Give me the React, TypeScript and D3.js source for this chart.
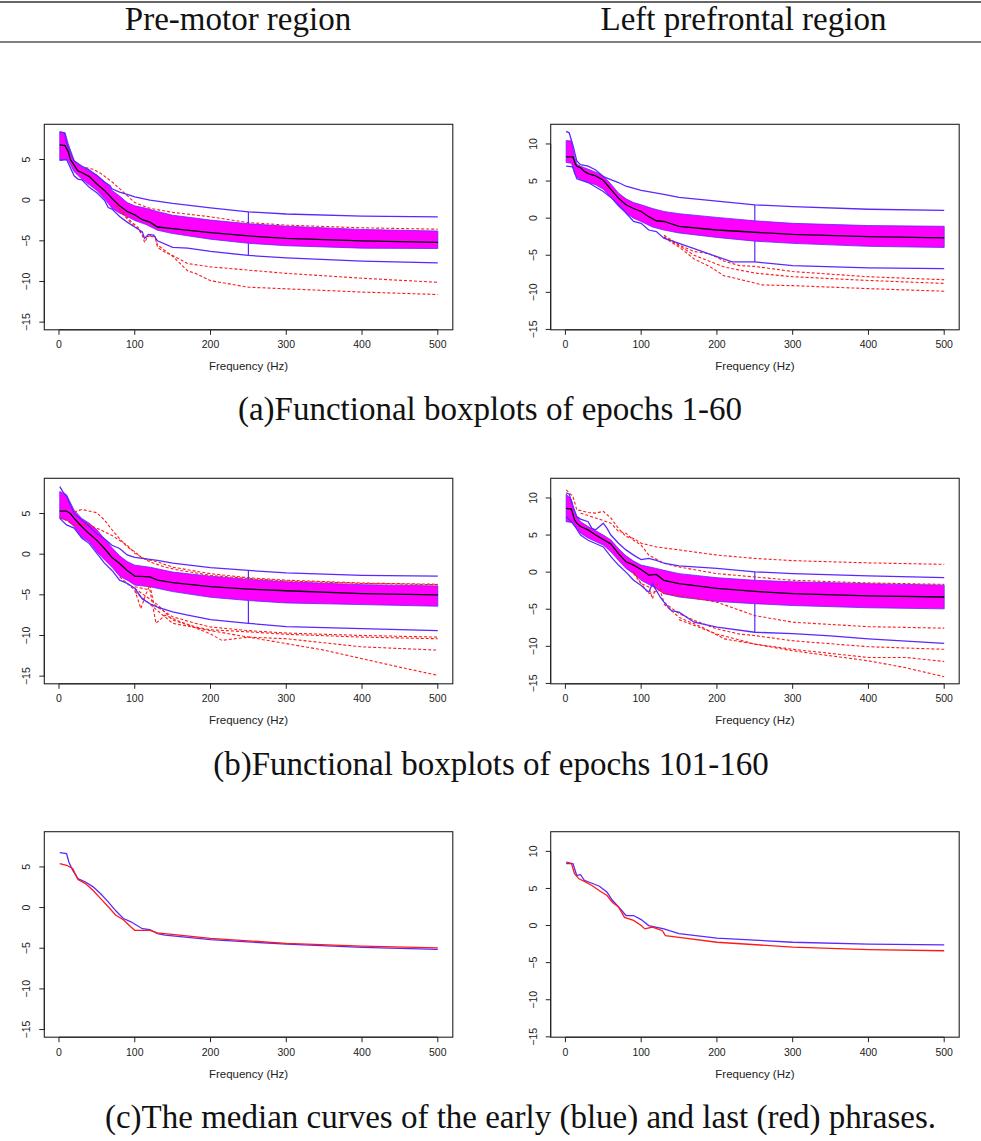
import React from 'react';
import * as d3 from 'd3';

type Pt = [number, number];
type BandPt = [number, number, number]; // [Hz, lower, upper]

const FREQ_TICKS = [0, 100, 200, 300, 400, 500];
const LEFT_Y_TICKS = [-15, -10, -5, 0, 5];
const RIGHT_Y_TICKS = [-15, -10, -5, 0, 5, 10];
const COLUMN_TITLES = ['Pre-motor region', 'Left prefrontal region'];
const CAPTIONS = [
  '(a)Functional boxplots of epochs 1-60',
  '(b)Functional boxplots of epochs 101-160',
  '(c)The median curves of the early (blue) and last (red) phrases.',
];
const X_LABEL = 'Frequency (Hz)';

// ---- (a) pre-motor, epochs 1-60
const aLeftBand: BandPt[] = [
  [1, 4.9, 8.4], [8, 5.0, 8.3], [12, 4.9, 7.0], [15, 4.4, 6.2], [20, 3.5, 4.9], [30, 2.6, 4.1],
  [40, 1.9, 3.6], [50, 1.2, 3.1], [60, 0.2, 2.3], [65, -0.4, 1.9], [70, -1.0, 1.2], [80, -1.6, 0.5],
  [90, -2.0, -0.3], [100, -2.5, -0.7], [115, -3.0, -1.0], [130, -3.7, -1.4], [150, -4.1, -1.85],
  [200, -4.8, -2.45], [250, -5.3, -2.9], [300, -5.6, -3.2], [400, -5.9, -3.6], [500, -5.95, -3.8],
];
const aLeftMedian: Pt[] = [
  [1, 6.8], [8, 6.7], [12, 6.0], [15, 5.0], [20, 4.3], [25, 3.6], [30, 3.4], [40, 2.9], [50, 2.0],
  [60, 1.2], [70, 0.2], [80, -0.7], [90, -1.4], [100, -1.8], [110, -2.4], [120, -2.7], [130, -3.3],
  [150, -3.5], [200, -4.0], [250, -4.4], [300, -4.7], [400, -5.0], [500, -5.2],
];
const aLeftUpper: Pt[] = [
  [1, 8.4], [5, 8.3], [8, 8.2], [10, 7.0], [15, 5.8], [20, 4.8], [30, 4.2], [40, 3.7], [50, 3.0],
  [60, 2.2], [67, 1.8], [70, 1.4], [80, 1.0], [90, 0.7], [100, 0.4], [120, 0.0], [150, -0.4],
  [200, -0.95], [250, -1.43], [300, -1.7], [400, -1.95], [500, -2.05],
];
const aLeftLower: Pt[] = [
  [1, 4.9], [10, 5.0], [15, 4.0], [20, 3.0], [25, 2.6], [30, 2.5], [40, 1.6], [50, 0.9], [60, 0.0],
  [65, -0.9], [70, -1.1], [80, -2.0], [90, -2.7], [100, -3.3], [110, -3.9], [113, -4.7], [118, -4.2],
  [125, -4.3], [130, -5.0], [150, -5.8], [170, -5.9], [200, -6.3], [250, -6.8], [300, -7.1],
  [400, -7.5], [500, -7.7],
];
const aLeftOutliers: Pt[][] = [
  [[35, 4.0], [45, 3.8], [55, 3.3], [70, 2.25], [85, 1.0], [100, -0.3], [120, -1.0], [150, -1.5],
    [200, -2.05], [250, -2.75], [300, -3.07], [400, -3.4], [500, -3.57]],
  [[75, -0.6], [85, -1.6], [95, -2.6], [105, -3.4], [110, -4.3], [113, -5.2], [117, -4.5], [122, -4.3],
    [127, -4.5], [130, -5.8], [140, -6.4], [150, -6.8], [170, -7.8], [200, -8.2], [250, -8.6],
    [300, -9.0], [400, -9.6], [500, -10.1]],
  [[75, -0.6], [85, -1.8], [95, -2.8], [105, -3.6], [112, -4.6], [120, -4.4], [127, -4.6], [130, -5.5],
    [150, -6.9], [170, -8.7], [180, -9.0], [200, -9.9], [250, -10.7], [300, -10.9], [400, -11.3],
    [500, -11.6]],
];

// ---- (a) left prefrontal, epochs 1-60
const aRightBand: BandPt[] = [
  [1, 7.5, 10.45], [8, 7.4, 10.4], [12, 6.0, 8.3], [15, 5.5, 7.3], [20, 5.2, 7.0], [30, 4.8, 6.6],
  [40, 4.5, 6.2], [50, 3.9, 5.7], [60, 2.8, 4.6], [70, 1.6, 3.4], [80, 0.7, 2.6], [90, 0.0, 2.1],
  [100, -0.45, 1.8], [115, -1.2, 1.3], [130, -1.6, 0.9], [150, -2.0, 0.6], [200, -2.6, 0.1],
  [250, -3.1, -0.36], [300, -3.4, -0.7], [400, -3.8, -1.0], [500, -3.95, -1.1],
];
const aRightMedian: Pt[] = [
  [1, 8.27], [10, 8.25], [13, 7.3], [15, 7.0], [20, 6.8], [25, 6.3], [30, 6.0], [40, 5.7], [50, 5.1],
  [60, 3.9], [70, 2.7], [80, 1.8], [90, 1.3], [100, 0.9], [110, 0.2], [120, -0.35], [130, -0.45],
  [150, -1.1], [200, -1.6], [250, -1.9], [300, -2.2], [400, -2.5], [500, -2.65],
];
const aRightUpper: Pt[] = [
  [1, 11.7], [5, 11.5], [10, 9.8], [15, 7.7], [20, 7.2], [30, 7.0], [40, 6.5], [50, 5.6], [60, 5.2],
  [70, 4.8], [80, 4.3], [100, 3.75], [130, 3.2], [150, 2.8], [200, 2.3], [250, 1.8], [300, 1.55],
  [400, 1.2], [500, 1.05],
];
const aRightLower: Pt[] = [
  [1, 7.0], [10, 6.9], [15, 5.3], [30, 4.8], [50, 3.6], [60, 2.8], [70, 1.8], [80, 0.7], [90, -0.45],
  [100, -0.7], [110, -1.6], [120, -1.8], [130, -2.7], [150, -3.4], [170, -4.1], [200, -5.2],
  [220, -5.9], [250, -5.9], [300, -6.4], [400, -6.7], [500, -6.8],
];
const aRightOutliers: Pt[][] = [
  [[130, -2.3], [150, -3.6], [170, -4.5], [190, -4.8], [210, -5.8], [230, -6.4], [250, -6.5],
    [300, -7.2], [400, -7.9], [500, -8.3]],
  [[130, -2.5], [150, -3.7], [170, -5.0], [190, -5.8], [210, -6.6], [230, -7.0], [250, -7.4],
    [300, -7.9], [400, -8.4], [500, -8.8]],
  [[130, -2.6], [150, -3.9], [170, -5.5], [190, -6.5], [210, -7.8], [220, -8.0], [240, -8.5],
    [260, -9.0], [300, -9.1], [400, -9.5], [500, -9.85]],
];

// ---- (b) pre-motor, epochs 101-160
const bLeftBand: BandPt[] = [
  [1, 4.4, 7.7], [10, 4.2, 7.3], [20, 3.4, 5.4], [30, 2.1, 4.4], [40, 1.5, 3.8], [50, 0.3, 3.0],
  [60, -0.7, 1.9], [70, -1.6, 0.8], [80, -2.7, -0.2], [90, -3.2, -0.9], [100, -3.8, -1.35],
  [120, -4.0, -1.6], [150, -4.6, -2.2], [200, -5.3, -2.7], [250, -5.7, -3.1], [300, -6.0, -3.4],
  [400, -6.2, -3.75], [500, -6.4, -3.9],
];
const bLeftMedian: Pt[] = [
  [1, 5.3], [10, 5.3], [15, 5.0], [20, 4.4], [30, 3.4], [40, 2.5], [50, 1.7], [60, 0.7], [70, -0.4],
  [80, -1.15], [90, -2.0], [100, -2.7], [120, -2.8], [130, -3.2], [150, -3.5], [200, -4.0],
  [250, -4.3], [300, -4.5], [400, -4.85], [500, -5.0],
];
const bLeftUpper: Pt[] = [
  [1, 8.3], [5, 7.7], [10, 7.1], [20, 5.0], [30, 4.2], [40, 3.4], [50, 2.5], [60, 1.9], [70, 1.1],
  [80, 0.7], [90, -0.1], [100, -0.4], [130, -0.75], [150, -1.1], [200, -1.65], [250, -2.0],
  [300, -2.3], [400, -2.6], [500, -2.7],
];
const bLeftLower: Pt[] = [
  [1, 4.4], [10, 3.6], [20, 3.2], [30, 2.0], [40, 1.3], [50, 0.1], [60, -1.1], [70, -2.0], [80, -3.2],
  [90, -3.6], [100, -4.2], [110, -5.5], [120, -6.1], [130, -6.5], [150, -7.1], [170, -7.5],
  [200, -8.05], [250, -8.5], [300, -8.9], [400, -9.15], [500, -9.4],
];
const bLeftOutliers: Pt[][] = [
  [[20, 5.2], [30, 5.5], [50, 5.1], [60, 4.2], [70, 3.0], [80, 1.9], [90, 0.9], [100, 0.3], [110, -0.5],
    [130, -0.95], [150, -1.6], [200, -2.4], [250, -2.9], [300, -3.2], [400, -3.55], [500, -3.7]],
  [[1, 4.6], [20, 3.6], [40, 3.6], [50, 3.2], [70, 2.3], [90, 1.1], [100, 0.1], [120, -0.95],
    [140, -1.6], [160, -2.0], [200, -2.6], [250, -3.0], [300, -3.3], [400, -3.6], [500, -3.75]],
  [[80, -2.8], [100, -4.4], [108, -6.7], [115, -4.85], [120, -3.8], [125, -6.1], [130, -6.5],
    [150, -7.7], [180, -8.5], [200, -8.95], [250, -9.4], [300, -9.7], [400, -10.0], [500, -10.2]],
  [[100, -4.0], [120, -4.4], [128, -8.5], [140, -7.5], [160, -8.3], [180, -8.95], [200, -9.3],
    [250, -9.55], [300, -9.85], [400, -10.2], [500, -10.4]],
  [[100, -4.2], [130, -6.2], [150, -8.1], [170, -8.7], [200, -9.8], [215, -10.6], [250, -10.2],
    [300, -10.4], [400, -11.4], [500, -11.8]],
  [[100, -4.6], [150, -8.5], [200, -9.4], [250, -10.2], [300, -11.0], [350, -11.8], [400, -12.85],
    [450, -13.9], [500, -14.9]],
];

// ---- (b) left prefrontal, epochs 101-160
const bRightBand: BandPt[] = [
  [1, 6.8, 10.5], [8, 6.7, 9.8], [12, 6.2, 8.0], [20, 5.25, 6.8], [30, 4.6, 6.15], [50, 3.65, 5.0],
  [60, 2.75, 4.35], [70, 1.6, 3.2], [80, 0.5, 2.2], [90, -0.2, 1.5], [100, -1.1, 0.95],
  [120, -2.2, 0.5], [130, -2.9, 0.25], [150, -3.35, -0.2], [200, -3.95, -0.75], [250, -4.25, -1.1],
  [300, -4.5, -1.3], [400, -4.8, -1.55], [500, -4.95, -1.75],
];
const bRightMedian: Pt[] = [
  [1, 8.6], [8, 8.5], [12, 7.05], [15, 6.6], [20, 6.15], [30, 5.7], [40, 5.0], [50, 4.4], [60, 3.8],
  [70, 2.5], [80, 1.4], [90, 0.95], [100, 0.35], [110, -0.4], [120, -0.3], [130, -1.1], [150, -1.55],
  [200, -2.2], [250, -2.6], [300, -2.9], [400, -3.2], [500, -3.35],
];
const bRightUpper: Pt[] = [
  [1, 10.7], [5, 10.5], [10, 8.9], [15, 7.5], [20, 7.15], [30, 6.8], [35, 5.9], [40, 5.7], [50, 6.6],
  [55, 5.9], [60, 5.0], [70, 3.9], [80, 3.0], [90, 2.3], [100, 1.7], [110, 1.85], [120, 1.6],
  [130, 1.2], [150, 0.85], [200, 0.5], [250, 0.05], [300, -0.2], [400, -0.5], [500, -0.75],
];
const bRightLower: Pt[] = [
  [1, 7.5], [10, 6.6], [20, 5.0], [30, 4.3], [50, 3.4], [60, 2.1], [70, 0.95], [80, 0.0], [90, -1.1],
  [100, -1.8], [110, -2.7], [115, -1.55], [120, -2.45], [125, -3.35], [130, -4.0], [140, -5.2],
  [150, -5.4], [170, -6.75], [200, -7.4], [250, -8.1], [300, -8.3], [350, -8.6], [400, -9.0],
  [500, -9.6],
];
const bRightOutliers: Pt[][] = [
  [[1, 11.1], [10, 10.2], [15, 8.4], [20, 8.3], [30, 8.05], [40, 7.95], [50, 8.2], [60, 7.3], [70, 5.9],
    [80, 4.8], [90, 4.55], [100, 3.9], [120, 3.4], [150, 3.0], [200, 2.3], [250, 1.85], [300, 1.55],
    [400, 1.25], [500, 1.05]],
  [[20, 7.95], [40, 7.3], [60, 6.6], [70, 5.5], [80, 5.25], [90, 4.3], [100, 3.65], [110, 2.3],
    [130, 1.2], [150, 0.7], [200, -0.2], [250, -0.65], [300, -1.1], [400, -1.45], [500, -1.65]],
  [[90, 0.05], [100, -1.55], [110, -2.0], [115, -3.6], [120, -1.6], [130, -2.9], [150, -3.1],
    [200, -4.05], [250, -5.85], [300, -6.75], [400, -7.35], [500, -7.55]],
  [[90, -0.2], [110, -2.9], [125, -2.45], [130, -4.05], [150, -5.6], [170, -6.5], [200, -7.65],
    [230, -8.35], [250, -8.55], [300, -9.25], [400, -10.05], [500, -10.4]],
  [[130, -4.3], [150, -6.1], [180, -7.4], [210, -9.0], [250, -9.7], [300, -10.4], [400, -11.5],
    [450, -11.5], [500, -12.05]],
  [[150, -6.4], [200, -8.35], [250, -9.7], [300, -10.6], [400, -11.95], [450, -12.9], [500, -14.1]],
];

// ---- (c) medians, early (blue) and last (red)
const cLeftEarly: Pt[] = [
  [1, 6.75], [10, 6.65], [13, 5.6], [18, 4.6], [25, 3.55], [35, 3.15], [45, 2.55], [55, 1.7], [65, 0.7],
  [75, -0.4], [85, -1.35], [95, -1.75], [110, -2.6], [120, -2.7], [130, -3.2], [140, -3.4],
  [200, -3.95], [300, -4.5], [400, -4.9], [500, -5.15],
];
const cLeftLate: Pt[] = [
  [1, 5.4], [10, 5.2], [18, 4.8], [25, 3.45], [35, 2.95], [45, 2.1], [55, 1.1], [65, 0.1], [75, -0.95],
  [85, -1.5], [95, -2.4], [100, -2.8], [120, -2.8], [130, -3.1], [200, -3.8], [300, -4.4],
  [400, -4.75], [500, -4.95],
];
const cRightEarly: Pt[] = [
  [1, 8.35], [10, 8.35], [15, 6.75], [20, 6.85], [25, 6.1], [35, 5.7], [45, 5.3], [55, 4.5], [62, 3.4],
  [70, 2.55], [80, 1.35], [90, 1.35], [100, 0.8], [110, 0.0], [130, -0.45], [150, -1.1], [200, -1.7],
  [300, -2.25], [400, -2.5], [500, -2.6],
];
const cRightLate: Pt[] = [
  [1, 8.55], [8, 8.4], [12, 7.0], [18, 6.3], [25, 5.95], [35, 5.4], [45, 4.7], [55, 4.05], [62, 3.15],
  [70, 2.5], [78, 1.1], [90, 0.7], [100, 0.0], [105, -0.45], [115, -0.2], [128, -0.7], [132, -1.35],
  [150, -1.6], [200, -2.25], [300, -2.9], [400, -3.25], [500, -3.4],
];

const BLUE = '#5a28ff';
const MAGENTA = '#ff00ff';
const RED = '#ff1a1a';

type PanelProps = {
  left: number;
  top: number;
  yDomain: [number, number];
  yTicks: number[];
  band?: BandPt[];
  median?: Pt[];
  upper?: Pt[];
  lower?: Pt[];
  outliers?: Pt[][];
  early?: Pt[];
  late?: Pt[];
};

const BOX_W = 408.5;
const BOX_H = 205.5;

function at(arr: Pt[], hz: number) {
  const p = arr.find(d => d[0] === hz);
  return p ? p[1] : 0;
}

function Panel(props: PanelProps) {
  const {left, top, yDomain, yTicks, band, median, upper, lower, outliers, early, late} = props;
  const xScale = d3.scaleLinear().domain([-19.4, 519.8]).range([left, left + BOX_W]);
  const yScale = d3.scaleLinear().domain(yDomain).range([top + BOX_H, top]);
  const line = d3.line<Pt>().x(d => xScale(d[0])).y(d => yScale(d[1]));
  const area = d3.area<BandPt>().x(d => xScale(d[0])).y0(d => yScale(d[1])).y1(d => yScale(d[2]));
  const bottom = top + BOX_H;

  let whisker = null;
  if (band && upper && lower) {
    const b = band.find(d => d[0] === 250)!;
    const x = xScale(250);
    whisker = (
      <g stroke={BLUE} strokeWidth={1.2}>
        <line x1={x} x2={x} y1={yScale(at(upper, 250))} y2={yScale(b[2])} />
        <line x1={x} x2={x} y1={yScale(b[1])} y2={yScale(at(lower, 250))} />
      </g>
    );
  }

  return (
    <g>
      {band && <path d={area(band)!} fill={MAGENTA} stroke={BLUE} strokeWidth={0.8} />}
      {outliers && outliers.map((o, i) => (
        <path key={i} d={line(o)!} fill="none" stroke={RED} strokeWidth={1.1} strokeDasharray="3,2" />
      ))}
      {upper && <path d={line(upper)!} fill="none" stroke={BLUE} strokeWidth={1.3} />}
      {lower && <path d={line(lower)!} fill="none" stroke={BLUE} strokeWidth={1.3} />}
      {whisker}
      {median && <path d={line(median)!} fill="none" stroke="#000" strokeWidth={1.3} />}
      {early && <path d={line(early)!} fill="none" stroke={BLUE} strokeWidth={1.3} />}
      {late && <path d={line(late)!} fill="none" stroke={RED} strokeWidth={1.3} />}

      <rect x={left} y={top} width={BOX_W} height={BOX_H} fill="none" stroke="#222" strokeWidth={1.1} />

      {/* x axis */}
      <g fontFamily="Liberation Sans, Arial, sans-serif" fontSize={10.5} fill="#222">
        <line x1={xScale(0)} x2={xScale(500)} y1={bottom} y2={bottom} stroke="#222" />
        {FREQ_TICKS.map(t => (
          <g key={t}>
            <line x1={xScale(t)} x2={xScale(t)} y1={bottom} y2={bottom + 5} stroke="#222" />
            <text x={xScale(t)} y={bottom + 18.5} textAnchor="middle">{t}</text>
          </g>
        ))}
        <text x={left + BOX_W / 2} y={bottom + 40.5} textAnchor="middle" fontSize={11.5}>{X_LABEL}</text>
      </g>

      {/* y axis */}
      <g fontFamily="Liberation Sans, Arial, sans-serif" fontSize={10.5} fill="#222">
        <line x1={left} x2={left} y1={yScale(yTicks[0])} y2={yScale(yTicks[yTicks.length - 1])} stroke="#222" />
        {yTicks.map(t => (
          <g key={t}>
            <line x1={left - 5} x2={left} y1={yScale(t)} y2={yScale(t)} stroke="#222" />
            <text
              transform={`translate(${left - 14},${yScale(t)}) rotate(-90)`}
              textAnchor="middle"
            >
              {t < 0 ? `\u2212${-t}` : t}
            </text>
          </g>
        ))}
      </g>
    </g>
  );
}

const LEFT_X = 44.3;
const RIGHT_X = 550.7;
const ROW_TOPS = [124.3, 478.3, 831.7];
const LEFT_Y: [number, number] = [-15.94, 9.33];
const RIGHT_Y: [number, number] = [-15.05, 12.65];

export default function App() {
  return (
    <div style={{position: 'absolute', left: 0, top: 0}}>
      <svg width={981} height={1141} style={{display: 'block', background: '#fff'}}>
        <line x1={0} x2={981} y1={2} y2={2} stroke="#333" strokeWidth={1.3} />
        <line x1={0} x2={981} y1={42} y2={42} stroke="#555" strokeWidth={1.3} />
        <g fontFamily="Liberation Serif, Times New Roman, serif" fontSize={33} fill="#111">
          <text x={238} y={29.5} textAnchor="middle">{COLUMN_TITLES[0]}</text>
          <text x={743.5} y={29.5} textAnchor="middle">{COLUMN_TITLES[1]}</text>
          <text x={490} y={420} textAnchor="middle">{CAPTIONS[0]}</text>
          <text x={491} y={774.5} textAnchor="middle">{CAPTIONS[1]}</text>
          <text x={520.5} y={1128} textAnchor="middle">{CAPTIONS[2]}</text>
        </g>

        <Panel left={LEFT_X} top={ROW_TOPS[0]} yDomain={LEFT_Y} yTicks={LEFT_Y_TICKS}
          band={aLeftBand} median={aLeftMedian} upper={aLeftUpper} lower={aLeftLower} outliers={aLeftOutliers} />
        <Panel left={RIGHT_X} top={ROW_TOPS[0]} yDomain={RIGHT_Y} yTicks={RIGHT_Y_TICKS}
          band={aRightBand} median={aRightMedian} upper={aRightUpper} lower={aRightLower} outliers={aRightOutliers} />
        <Panel left={LEFT_X} top={ROW_TOPS[1]} yDomain={LEFT_Y} yTicks={LEFT_Y_TICKS}
          band={bLeftBand} median={bLeftMedian} upper={bLeftUpper} lower={bLeftLower} outliers={bLeftOutliers} />
        <Panel left={RIGHT_X} top={ROW_TOPS[1]} yDomain={RIGHT_Y} yTicks={RIGHT_Y_TICKS}
          band={bRightBand} median={bRightMedian} upper={bRightUpper} lower={bRightLower} outliers={bRightOutliers} />
        <Panel left={LEFT_X} top={ROW_TOPS[2]} yDomain={LEFT_Y} yTicks={LEFT_Y_TICKS}
          early={cLeftEarly} late={cLeftLate} />
        <Panel left={RIGHT_X} top={ROW_TOPS[2]} yDomain={RIGHT_Y} yTicks={RIGHT_Y_TICKS}
          early={cRightEarly} late={cRightLate} />
      </svg>
    </div>
  );
}
